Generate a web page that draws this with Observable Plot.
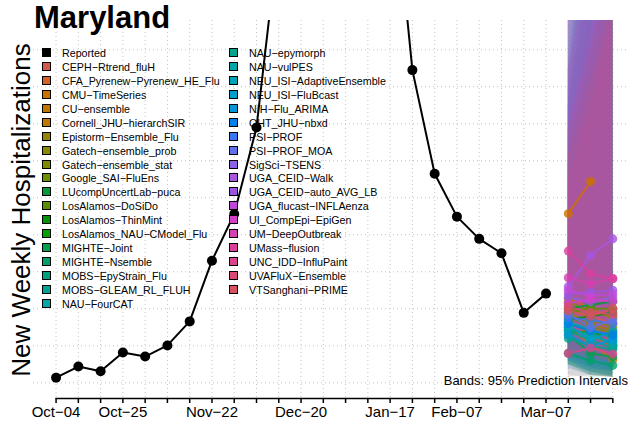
<!DOCTYPE html>
<html>
<head>
<meta charset="utf-8">
<script src="https://cdn.jsdelivr.net/npm/d3@7"></script>
<script src="https://cdn.jsdelivr.net/npm/@observablehq/plot@0.6"></script>
<style>
html, body { margin: 0; padding: 0; background: #fff; }
#wrap { position: relative; width: 629px; height: 429px; overflow: hidden; font-family: "Liberation Sans", Arial, sans-serif; color: #000; }
#wrap svg { position: absolute; left: 0; top: 0; }
#title { position: absolute; left: 34px; top: 2px; font-size: 31px; line-height: 31px; font-weight: bold; white-space: nowrap; }
#ylab { position: absolute; left: -179px; top: 197px; width: 400px; height: 26px; font-size: 26px; line-height: 26px; text-align: center; transform: rotate(-90deg); transform-origin: 50% 50%; white-space: nowrap; }
#legend { position: absolute; left: 0; top: 0; width: 629px; height: 429px; pointer-events: none; }
.lg-item { position: absolute; height: 14px; font-size: 10.7px; line-height: 14px; white-space: nowrap; }
.lg-sq { position: absolute; left: 0; top: 2px; width: 7px; height: 7px; border: 1.5px solid #000; }
.lg-tx { position: absolute; left: 20px; top: 0; }
#note { position: absolute; right: 1px; top: 374px; font-size: 13px; line-height: 13px; white-space: nowrap; }
</style>
</head>
<body>
<div id="wrap">
  <div id="legend"></div>
  <div id="title">Maryland</div>
  <div id="ylab">New Weekly Hospitalizations</div>
  <div id="note">Bands: 95% Prediction Intervals</div>
</div>
<script>
// ---------- data ----------
const reportedDates = ["2025-10-04","2025-10-11","2025-10-18","2025-10-25","2025-11-01","2025-11-08","2025-11-15","2025-11-22","2025-11-29","2025-12-06","2025-12-13","2025-12-20","2025-12-27","2026-01-03","2026-01-10","2026-01-17","2026-01-24","2026-01-31","2026-02-07","2026-02-14","2026-02-21","2026-02-28","2026-03-07"];
const reportedValues = [114,144,131,182,171,201,266,430,556,790,1310,1700,1900,1950,1850,1550,945,665,549,489,450,289,341];

const forecastDates = ["2026-03-14","2026-03-21","2026-03-28"];

const models = ["CEPH−Rtrend_fluH","CFA_Pyrenew−Pyrenew_HE_Flu","CMU−TimeSeries","CU−ensemble","Cornell_JHU−hierarchSIR","Epistorm−Ensemble_Flu","Gatech−ensemble_prob","Gatech−ensemble_stat","Google_SAI−FluEns","LUcompUncertLab−puca","LosAlamos−DoSiDo","LosAlamos−ThinMint","LosAlamos_NAU−CModel_Flu","MIGHTE−Joint","MIGHTE−Nsemble","MOBS−EpyStrain_Flu","MOBS−GLEAM_RL_FLUH","NAU−FourCAT","NAU−epymorph","NAU−vulPES","NEU_ISI−AdaptiveEnsemble","NEU_ISI−FluBcast","NIH−Flu_ARIMA","OHT_JHU−nbxd","PSI−PROF","PSI−PROF_MOA","SigSci−TSENS","UGA_CEID−Walk","UGA_CEID−auto_AVG_LB","UGA_flucast−INFLAenza","UI_CompEpi−EpiGen","UM−DeepOutbreak","UMass−flusion","UNC_IDD−InfluPaint","UVAFluX−Ensemble","VTSanghani−PRIME"];

const modelColors = ["#D65A4C","#D2622A","#CC7000","#BF7600","#BE7800","#948400","#8A8A00","#7E8C00","#6C9000","#009A3A","#5C8E00","#00930A","#00A000","#00A050","#00A06A","#00A07E","#00A393","#00A5AA","#00A38E","#00A5A5","#00A3BA","#009ECC","#0096D8","#0080E8","#3A78F0","#6070E8","#8B63E6","#A855E0","#9A55E0","#C048D8","#D43FC8","#D63FB0","#D9409E","#DB448A","#DC4876","#D9505F"];

// median forecasts, one row per model, one value per forecast week
const medianValues = [
  [300,280,260],[330,300,275],[557,644,null],[270,230,200],[250,205,163],[290,260,240],
  [310,270,250],[320,290,280],[280,250,235],[300,310,320],[290,300,300],[270,280,290],
  [240,235,225],[230,180,170],[180,160,147],[260,240,200],[240,215,195],[250,225,210],
  [220,200,190],[245,230,205],[265,245,220],[255,215,240],[230,200,215],[260,240,230],
  [275,270,260],[285,250,270],[330,320,330],[360,444,489],[340,345,350],[350,335,340],
  [315,325,320],[384,368,382],[456,395,381],[180,194,178],[305,290,285],[295,280,300]
];
// 95% prediction interval bounds
const lowerValues = [
  [170,140,120],[200,170,150],[300,320,null],[160,130,115],[150,120,115],[190,160,140],
  [180,150,130],[200,170,160],[170,140,130],[160,140,130],[180,160,150],[170,150,140],
  [150,130,120],[150,120,115],[120,115,115],[160,130,115],[150,125,115],[150,130,120],
  [140,120,115],[150,130,115],[170,150,130],[160,130,140],[140,120,120],[160,140,130],
  [180,160,150],[190,150,160],[220,200,190],[220,230,240],[210,200,190],[220,190,180],
  [190,180,170],[240,220,210],[260,200,180],[115,120,115],[190,170,160],[180,160,160]
];
const upperValues = [
  [700,950,1200],[800,1100,1400],[1200,1800,null],[650,850,1050],[700,950,1200],[680,900,1150],
  [850,1200,1600],[750,1000,1300],[700,950,1250],[950,1500,2000],[900,1400,1900],[850,1300,1800],
  [780,1100,1500],[620,800,1000],[560,720,900],[720,950,1200],[850,1250,1700],[950,1500,2100],
  [1100,1700,2500],[900,1400,1950],[780,1000,1250],[1200,1800,2500],[1400,2200,3000],[1000,1600,2200],
  [850,1200,1550],[900,1300,1750],[1150,1700,2300],[1250,2000,2800],[950,1350,1750],[1100,1600,2100],
  [800,1050,1300],[950,1250,1550],[1400,1900,2400],[650,850,1100],[720,920,1150],[780,1000,1250]
];

const tickLabels = ["Oct−04","Oct−25","Nov−22","Dec−20","Jan−17","Feb−07","Mar−07"];
const tickLabelDates = ["2025-10-04","2025-10-25","2025-11-22","2025-12-20","2026-01-17","2026-02-07","2026-03-07"];
const gridValues = [100,200,300,400,500,600,700,800,900,1000];

const legendLabels = ["Reported", ...models];
const legendColors = ["#000000", ...modelColors];

// ---------- derived tables ----------
const reported = reportedDates.map((d, i) => ({date: new Date(d), value: reportedValues[i]}));
const rows = [];
models.forEach((m, i) => forecastDates.forEach((d, j) => rows.push({
  model: m, date: new Date(d), median: medianValues[i][j], lower: lowerValues[i][j], upper: upperValues[i][j]
})));
const allWeeks = [...reportedDates, ...forecastDates].map(d => new Date(d));
const labelByDate = new Map(tickLabelDates.map((d, i) => [+new Date(d), tickLabels[i]]));

const yDomain = [57.6, 1079];
const xDomain = [new Date("2025-09-27"), new Date("2026-04-04")];

const plot = Plot.plot({
  width: 629,
  height: 429,
  marginTop: 20,
  marginBottom: 31,
  marginLeft: 33,
  marginRight: 0,
  x: {type: "utc", domain: xDomain, range: [33.3, 634.6]},
  y: {domain: yDomain, axis: null},
  color: {domain: models, range: modelColors},
  style: {fontFamily: "Liberation Sans, Arial, sans-serif", background: "transparent", color: "#000", overflow: "visible"},
  marks: [
    Plot.ruleX(allWeeks, {stroke: "#c4c4c4", strokeDasharray: "1,3"}),
    Plot.ruleY(gridValues, {stroke: "#c4c4c4", strokeDasharray: "1,3"}),
    Plot.areaY(rows.filter(d => d.lower != null), {x: "date", y1: "lower", y2: "upper", z: "model", fill: "model", fillOpacity: 0.15, clip: true}),
    Plot.line(reported, {x: "date", y: "value", stroke: "black", strokeWidth: 2, clip: true}),
    Plot.dot(reported, {x: "date", y: "value", r: 5, fill: "black", clip: true}),
    Plot.line(rows, {x: "date", y: "median", z: "model", stroke: "model", strokeWidth: 2, strokeOpacity: 0.85, clip: true}),
    Plot.dot(rows.filter(d => d.median != null), {x: "date", y: "median", fill: "model", r: 4.5, fillOpacity: 0.8, clip: true}),
    Plot.ruleY([yDomain[0]], {x1: () => allWeeks[0], x2: () => allWeeks[allWeeks.length - 1], stroke: "black", strokeWidth: 1.5}),
    Plot.axisX({ticks: allWeeks, tickFormat: d => labelByDate.get(+d) ?? "", tickSize: 5, tickPadding: 3, fontSize: 15, label: null, strokeWidth: 1.5})
  ]
});
const wrap = document.getElementById("wrap");
wrap.insertBefore(plot, wrap.firstChild);

// ---------- legend ----------
const perCol = Math.ceil(legendLabels.length / 2);
const colLeft = [42, 229];
const legend = d3.select("#legend");
legendLabels.forEach((lab, i) => {
  const c = Math.floor(i / perCol), r = i % perCol;
  const item = legend.append("div").attr("class", "lg-item")
    .style("left", colLeft[c] + "px")
    .style("top", (46.3 + r * 13.9) + "px");
  item.append("div").attr("class", "lg-sq").style("background", legendColors[i]);
  item.append("div").attr("class", "lg-tx").text(lab);
});
</script>
</body>
</html>
